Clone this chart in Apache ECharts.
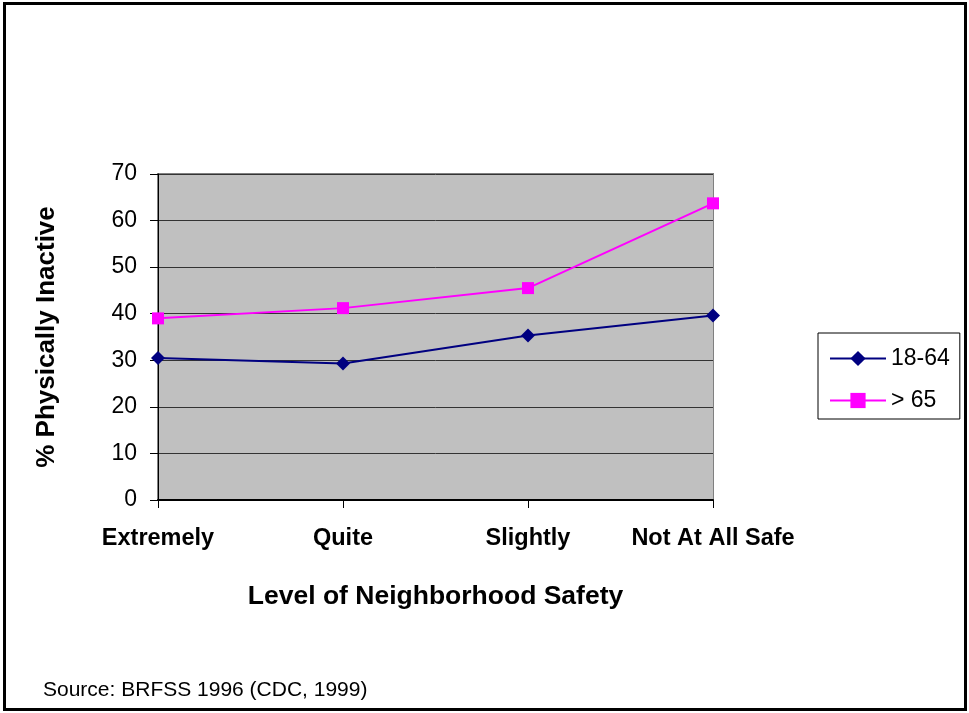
<!DOCTYPE html>
<html>
<head>
<meta charset="utf-8">
<script src="https://cdn.jsdelivr.net/npm/echarts@6/dist/echarts.min.js"></script>
<style>
html,body{margin:0;padding:0;background:#fff;}
#c{width:969px;height:713px;}
</style>
</head>
<body>
<div id="c"></div>
<script>
var categories = ['Extremely', 'Quite', 'Slightly', 'Not At All Safe'];
var age18to64 = [30.5, 29.3, 35.3, 39.6];
var age65plus = [39.0, 41.2, 45.5, 63.7];
var yTicks = [0, 10, 20, 30, 40, 50, 60, 70];

var chart = echarts.init(document.getElementById('c'), null, {renderer: 'canvas'});
var font = 'Liberation Sans, Arial, sans-serif';
chart.setOption({
  animation: false,
  backgroundColor: '#ffffff',
  textStyle: {fontFamily: font},
  graphic: [
    {type: 'rect', shape: {x: 4.5, y: 3.5, width: 961, height: 706}, style: {fill: 'none', stroke: '#000', lineWidth: 3}, z: 100},
    {type: 'rect', shape: {x: 158, y: 174, width: 555, height: 326}, style: {fill: 'none', stroke: '#808080', lineWidth: 2}, z: -1},
    {type: 'text', left: 43, top: 680, style: {text: 'Source: BRFSS 1996 (CDC, 1999)', font: '21px ' + font, fill: '#000'}}
  ],
  legend: {
    orient: 'vertical',
    left: 818,
    top: 333,
    borderColor: '#000',
    borderWidth: 1,
    padding: [14, 10, 7, 11],
    itemGap: 19,
    itemWidth: 56,
    itemHeight: 19,
    textStyle: {fontSize: 23, color: '#000', fontFamily: font},
    data: ['18-64', '> 65']
  },
  grid: {left: 158, right: 256, top: 174, bottom: 213, show: true, backgroundColor: '#c0c0c0', borderWidth: 0},
  xAxis: {
    type: 'category',
    data: categories,
    boundaryGap: false,
    name: 'Level of Neighborhood Safety',
    nameLocation: 'middle',
    nameGap: 83,
    nameTextStyle: {fontSize: 26.5, fontWeight: 'bold', color: '#000', fontFamily: font},
    axisLine: {lineStyle: {color: '#000', width: 2}},
    axisTick: {show: true, length: 8, interval: 0, alignWithLabel: true, lineStyle: {color: '#000'}},
    axisLabel: {interval: 0, hideOverlap: false, fontSize: 23.5, fontWeight: 'bold', color: '#000', margin: 27, fontFamily: font},
    splitLine: {show: false}
  },
  yAxis: {
    type: 'value',
    min: yTicks[0],
    max: yTicks[yTicks.length - 1],
    interval: 10,
    name: '% Physically Inactive',
    nameLocation: 'middle',
    nameGap: 98,
    nameTextStyle: {fontSize: 26, fontWeight: 'bold', color: '#000', fontFamily: font},
    axisLine: {show: true, lineStyle: {color: '#000', width: 1}},
    axisTick: {show: true, length: 8, lineStyle: {color: '#000'}},
    axisLabel: {fontSize: 23, color: '#000', margin: 21, fontFamily: font},
    splitLine: {show: true, lineStyle: {color: '#333', width: 1}}
  },
  series: [
    {
      name: '18-64',
      type: 'line',
      data: age18to64,
      symbol: 'diamond',
      symbolSize: 14,
      lineStyle: {color: '#000080', width: 2},
      itemStyle: {color: '#000080'},
      z: 3
    },
    {
      name: '> 65',
      type: 'line',
      data: age65plus,
      symbol: 'rect',
      symbolSize: 12,
      lineStyle: {color: '#ff00ff', width: 2},
      itemStyle: {color: '#ff00ff'},
      z: 4
    }
  ]
});
</script>
</body>
</html>
